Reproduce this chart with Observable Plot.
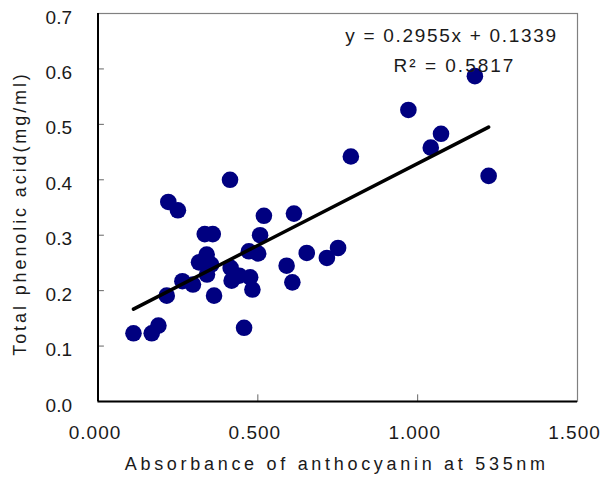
<!DOCTYPE html>
<html>
<head>
<meta charset="utf-8">
<script src="https://cdn.jsdelivr.net/npm/d3@7"></script>
<script src="https://cdn.jsdelivr.net/npm/@observablehq/plot@0.6"></script>
<style>
  html, body { margin: 0; padding: 0; background: #fff; }
  #chart svg { display: block; }
</style>
</head>
<body>
<div id="chart"></div>
<script>
const absorbance = [0.111, 0.168, 0.189, 0.215, 0.220, 0.250, 0.264, 0.297, 0.316, 0.334,
  0.359, 0.340, 0.354, 0.341, 0.363, 0.413, 0.415, 0.418, 0.442, 0.457,
  0.476, 0.483, 0.472, 0.501, 0.507, 0.519, 0.613, 0.590, 0.608, 0.653,
  0.716, 0.751, 0.791, 0.971, 1.041, 1.073, 1.179, 1.222];
const phenolic = [0.123, 0.123, 0.137, 0.191, 0.360, 0.345, 0.217, 0.211, 0.251, 0.302,
  0.302, 0.265, 0.247, 0.229, 0.191, 0.400, 0.241, 0.218, 0.227, 0.133,
  0.224, 0.202, 0.271, 0.267, 0.300, 0.335, 0.339, 0.245, 0.215, 0.268,
  0.259, 0.277, 0.442, 0.526, 0.458, 0.483, 0.587, 0.407];
const slope = 0.2955;
const intercept = 0.1339;
const r2 = 0.5817;
const xTicks = [0, 0.5, 1.0, 1.5];
const yTicks = [0, 0.1, 0.2, 0.3, 0.4, 0.5, 0.6, 0.7];
const xLabel = "Absorbance of anthocyanin at 535nm";
const yLabel = "Total phenolic acid(mg/ml)";

const points = absorbance.map((x, i) => ({x, y: phenolic[i]}));
const xMin = d3.min(absorbance), xMax = d3.max(absorbance);
const fitLine = [xMin, xMax].map(x => ({x, y: slope * x + intercept}));
const eqText = `y = ${slope}x + ${intercept}`;
const r2Text = `R² = ${r2}`;

const font = "'Liberation Sans', Arial, sans-serif";
const innerX = xTicks.slice(1, -1);
const innerY = yTicks.slice(1, -1);
const fmtX = d3.format(".3f");
const fmtY = d3.format(".1f");

const chart = Plot.plot({
  width: 601,
  height: 483,
  marginLeft: 97.5,
  marginRight: 24,
  marginTop: 13,
  marginBottom: 82,
  style: {fontFamily: font, fontSize: "19px", color: "#000", background: "#fff"},
  x: {domain: [0, 1.5], label: null, axis: null},
  y: {domain: [0, 0.7], label: null, axis: null},
  marks: [
    Plot.frame({stroke: "#808080", strokeWidth: 1.2}),
    Plot.axisX({ticks: xTicks, tickFormat: fmtX, tickSize: 0, tickPadding: 24, dx: -3, fontSize: 19, fill: "#1a1a1a", label: null}),
    Plot.axisY({ticks: yTicks, tickFormat: fmtY, tickSize: 0, tickPadding: 26, dy: 4, fontSize: 19, fill: "#1a1a1a", label: null}),
    Plot.ruleX(innerX, {x: d => d, y1: 0, y2: 0.012, stroke: "#666", strokeWidth: 1}),
    Plot.ruleY(innerY, {y: d => d, x1: 0, x2: 0.02, stroke: "#666", strokeWidth: 1}),
    Plot.ruleX([0], {stroke: "#000", strokeWidth: 2}),
    Plot.ruleY([0], {stroke: "#000", strokeWidth: 2}),
    Plot.dot(points, {x: "x", y: "y", r: 8.3, fill: "#000080", stroke: "none"}),
    Plot.line(fitLine, {x: "x", y: "y", stroke: "#000", strokeWidth: 3.5}),
    Plot.text([eqText], {text: d => d, frameAnchor: "top-right", dx: -126, dy: 15, textAnchor: "middle", fontSize: 19, fill: "#1a1a1a"}),
    Plot.text([r2Text], {text: d => d, frameAnchor: "top-right", dx: -123, dy: 45, textAnchor: "middle", fontSize: 19, fill: "#1a1a1a"}),
    Plot.text([xLabel], {text: d => d, frameAnchor: "bottom", dx: -1, dy: 68, fontSize: 18, fill: "#1a1a1a"}),
    Plot.text([yLabel], {text: d => d, frameAnchor: "left", textAnchor: "middle", dx: -78, dy: 6, rotate: -90, fontSize: 18, fill: "#1a1a1a"})
  ]
});
const spacing = new Map([[eqText, "1.7px"], [r2Text, "2px"], [xLabel, "3.7px"], [yLabel, "2.9px"]]);
xTicks.forEach(t => spacing.set(fmtX(t), "1px"));
d3.select(chart).selectAll("text").each(function() {
  const s = spacing.get(this.textContent);
  if (s) this.setAttribute("letter-spacing", s);
});
document.getElementById("chart").appendChild(chart);
</script>
</body>
</html>
